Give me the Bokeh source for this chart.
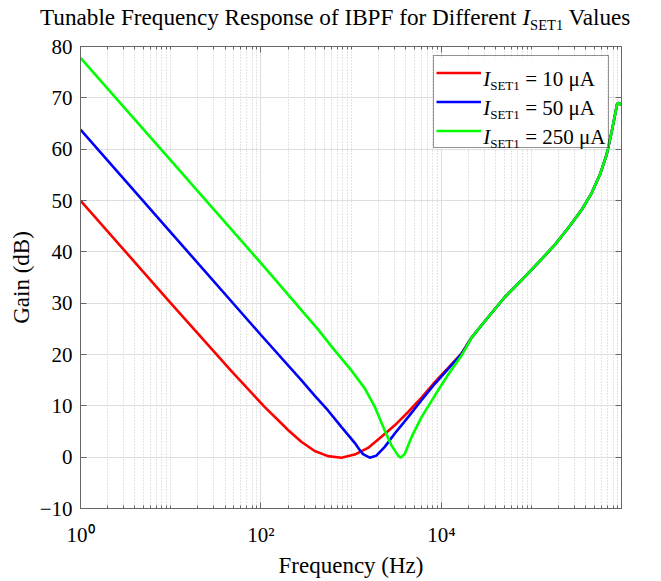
from bokeh.plotting import figure
from bokeh.layouts import column
from bokeh.models import (FixedTicker, LogAxis, LinearAxis, Label, Legend, LegendItem,
                          CustomJSTickFormatter, Range1d, BoxAnnotation, Div)
from bokeh.embed import file_html
from bokeh.resources import INLINE
import math

# ---------------- data ----------------
red_freq = [1, 10, 46.8, 109.6, 167.9, 199.5, 279.9, 393.6, 553.4, 778.0, 1094, 1538, 2163,
            3041, 4276, 6012, 8453, 11885, 16711]
red_gain = [50.0, 30.0, 16.8, 9.8, 6.6, 5.3, 3.0, 1.2, 0.2, -0.1, 0.5, 1.8, 4.0,
            6.2, 8.8, 11.6, 14.6, 17.4, 20.2]

blue_freq = [1, 10, 100, 279.9, 393.6, 553.4, 778.0, 1094, 1220, 1352, 1603, 1901, 2355,
             3041, 4276, 6012, 8453, 11885, 16711]
blue_gain = [63.8, 43.8, 23.8, 15.0, 12.0, 9.1, 5.9, 2.8, 1.6, 0.6, -0.1, 0.3, 2.0,
             4.6, 7.8, 11.1, 14.3, 17.2, 20.1]

green_freq = [1, 10, 100, 428.5, 656, 1005, 1413, 1824, 2355, 2793, 3311, 3548, 3926,
              4656, 6012, 8453, 11885, 16711]
green_gain = [77.8, 57.8, 37.8, 24.9, 20.8, 16.9, 13.4, 9.8, 5.2, 2.3, 0.3, -0.1, 0.65,
              3.9, 7.8, 12.0, 16.1, 19.8]

# common high-frequency part (all three curves coincide)
tail_freq = [21578, 33037, 50582, 77446, 118577, 181551, 255270, 358922, 463447, 572796,
             679204, 772681, 841395, 885116, 931108, 984000]
tail_gain = [23.3, 27.3, 31.2, 34.5, 37.9, 41.4, 44.7, 48.2, 51.5, 55.1,
             59.0, 63.5, 66.8, 68.8, 69.0, 68.6]

series_names = ["10 μA", "50 μA", "250 μA"]
series_colors = ["#ff0000", "#0000ff", "#00ff00"]

x_major_ticks = [1, 100, 10000]
x_tick_labels = ["10\u2070", "10\u00b2", "10\u2074"]
y_ticks = [-10, 0, 10, 20, 30, 40, 50, 60, 70, 80]

title_main = "Tunable Frequency Response of IBPF for Different"
title_var = "I"
title_sub = "SET1"
title_end = "Values"
x_label = "Frequency (Hz)"
y_label = "Gain (dB)"

# ---------------- layout constants (page pixels, page starts at 0,0) ----------------
FONT = "Liberation Serif"
W = 661
TH = 38                      # title strip height
ML, MR, MT, MB = 80, 40, 8, 73
FRAME_W, FRAME_H = W - ML - MR, 462
H = MT + FRAME_H + MB
X_END = 9.9e5
Y0, Y1 = -10, 80

FL = ML                      # frame left (page px)
FT = TH + MT                 # frame top (page px)
DEC = FRAME_W / math.log10(X_END)
PXDB = FRAME_H / (Y1 - Y0)


def xdata(page_x):
    return 10 ** ((page_x - FL) / DEC)


def ydata(page_y):
    return Y1 - (page_y - FT) / PXDB


def fsx(page_x):
    return page_x - FL


def fsy(page_y):
    return (FT + FRAME_H) - page_y


# ---------------- title ----------------
title_html = (
    '<div style="text-align:center;position:relative;left:40px;padding-top:5px;'
    'font-family:\'Liberation Serif\';font-size:23.2px;line-height:24px;color:black;'
    'white-space:nowrap;">'
    f'{title_main} <i>{title_var}</i>'
    f'<span style="font-size:14.5px;position:relative;top:5px;">{title_sub}</span>'
    f' {title_end}</div>'
)
title_div = Div(text=title_html, width=W, height=TH, margin=0)

# ---------------- main plot ----------------
minor = []
for e in range(0, 6):
    for k in range(1, 10):
        v = k * 10 ** e
        if v not in x_major_ticks and v < X_END:
            minor.append(v)

xticker = FixedTicker(ticks=x_major_ticks, minor_ticks=minor)
yticker = FixedTicker(ticks=y_ticks, minor_ticks=[])

p = figure(width=W, height=H, x_axis_type="log", x_range=Range1d(1, X_END),
           y_range=Range1d(Y0, Y1), output_backend="svg", toolbar_location=None,
           min_border_left=ML, min_border_right=MR, min_border_top=MT,
           min_border_bottom=MB, title=None, margin=0)
p.background_fill_color = "white"
p.border_fill_color = "white"
p.outline_line_color = "#666666"

AX = "#666666"
blank = CustomJSTickFormatter(code="return ''")
xfmt = CustomJSTickFormatter(args=dict(tvals=x_major_ticks, tlabels=x_tick_labels), code="""
for (let i = 0; i < tvals.length; i++) {
  if (Math.abs(tvals[i] - tick) < 1e-6 * tvals[i]) return tlabels[i];
}
return '';
""")

xa = p.xaxis[0]
xa.ticker = xticker
xa.formatter = xfmt
xa.major_label_text_font = FONT
xa.major_label_text_font_size = "21px"
xa.major_label_text_color = "black"
xa.major_label_standoff = 14
xa.axis_label = x_label
xa.axis_label_text_font = FONT
xa.axis_label_text_font_size = "23px"
xa.axis_label_text_font_style = "normal"
xa.axis_label_text_color = "black"
xa.axis_label_standoff = 3

ya = p.yaxis[0]
ya.ticker = yticker
ya.axis_label = y_label
ya.axis_label_text_font = FONT
ya.axis_label_text_font_size = "23px"
ya.axis_label_text_font_style = "normal"
ya.axis_label_text_color = "black"
ya.axis_label_standoff = 3
ya.major_label_text_font = FONT
ya.major_label_text_font_size = "21px"
ya.major_label_text_color = "black"
ya.major_label_standoff = 8

top = LogAxis(ticker=xticker, formatter=blank, major_label_text_font_size="0px",
              major_label_standoff=0)
right = LinearAxis(ticker=yticker, formatter=blank, major_label_text_font_size="0px",
                   major_label_standoff=0)
p.add_layout(top, "above")
p.add_layout(right, "right")

for ax in [xa, ya, top, right]:
    ax.axis_line_color = AX
    ax.major_tick_line_color = AX
    ax.minor_tick_line_color = AX
    ax.major_tick_in = 6
    ax.major_tick_out = 0
    ax.minor_tick_in = 3
    ax.minor_tick_out = 0

p.xgrid.ticker = xticker
p.xgrid.grid_line_color = "#dedede"
p.xgrid.minor_grid_line_color = "#c8c8c8"
p.xgrid.minor_grid_line_dash = "1 2"
p.ygrid.ticker = yticker
p.ygrid.grid_line_color = "#dedede"

curves = [(red_freq, red_gain), (blue_freq, blue_gain), (green_freq, green_gain)]
renderers = []
for (f, g), c in zip(curves, series_colors):
    r = p.line(f + tail_freq, g + tail_gain, line_color=c, line_width=2.6)
    renderers.append(r)

# legend: white box, text pieces, then transparent legend with swatches + border
LEG_X, LEG_TOP = 432.7, 57.3
PAD, GW, GH, LW = 2, 45, 29, 125
LEG_R = LEG_X + 2 * PAD + GW + LW
LEG_B = LEG_TOP + 2 * PAD + 3 * GH
p.add_layout(BoxAnnotation(left=xdata(LEG_X), right=xdata(LEG_R), top=ydata(LEG_TOP),
                           bottom=ydata(LEG_B), fill_color="white", fill_alpha=1,
                           line_color=None))

text_x = LEG_X + PAD + GW + 3
for i, name in enumerate(series_names):
    yc = LEG_TOP + PAD + GH * (i + 0.5)
    base = yc + 5
    p.add_layout(Label(x=fsx(text_x), y=fsy(base), x_units="screen", y_units="screen",
                       text="I", text_font=FONT, text_font_size="21px",
                       text_font_style="italic", text_baseline="alphabetic",
                       text_color="black"))
    p.add_layout(Label(x=fsx(text_x + 7), y=fsy(base + 6), x_units="screen",
                       y_units="screen", text="SET1", text_font=FONT,
                       text_font_size="13px", text_baseline="alphabetic",
                       text_color="black"))
    p.add_layout(Label(x=fsx(text_x + 42), y=fsy(base), x_units="screen",
                       y_units="screen", text="= " + name, text_font=FONT,
                       text_font_size="21px", text_baseline="alphabetic",
                       text_color="black"))

legend = Legend(items=[LegendItem(label=" ", renderers=[r]) for r in renderers],
                location=(round(fsx(LEG_X)), round(fsy(LEG_B))),
                padding=PAD, glyph_width=GW, glyph_height=GH, label_width=LW,
                label_height=GH, label_standoff=0, spacing=0, margin=0,
                border_line_color="#262626", border_line_width=1,
                background_fill_alpha=0, label_text_font_size="21px")
p.add_layout(legend)

layout = column(title_div, p, spacing=0)
open("out.html", "w").write(file_html(layout, INLINE))
